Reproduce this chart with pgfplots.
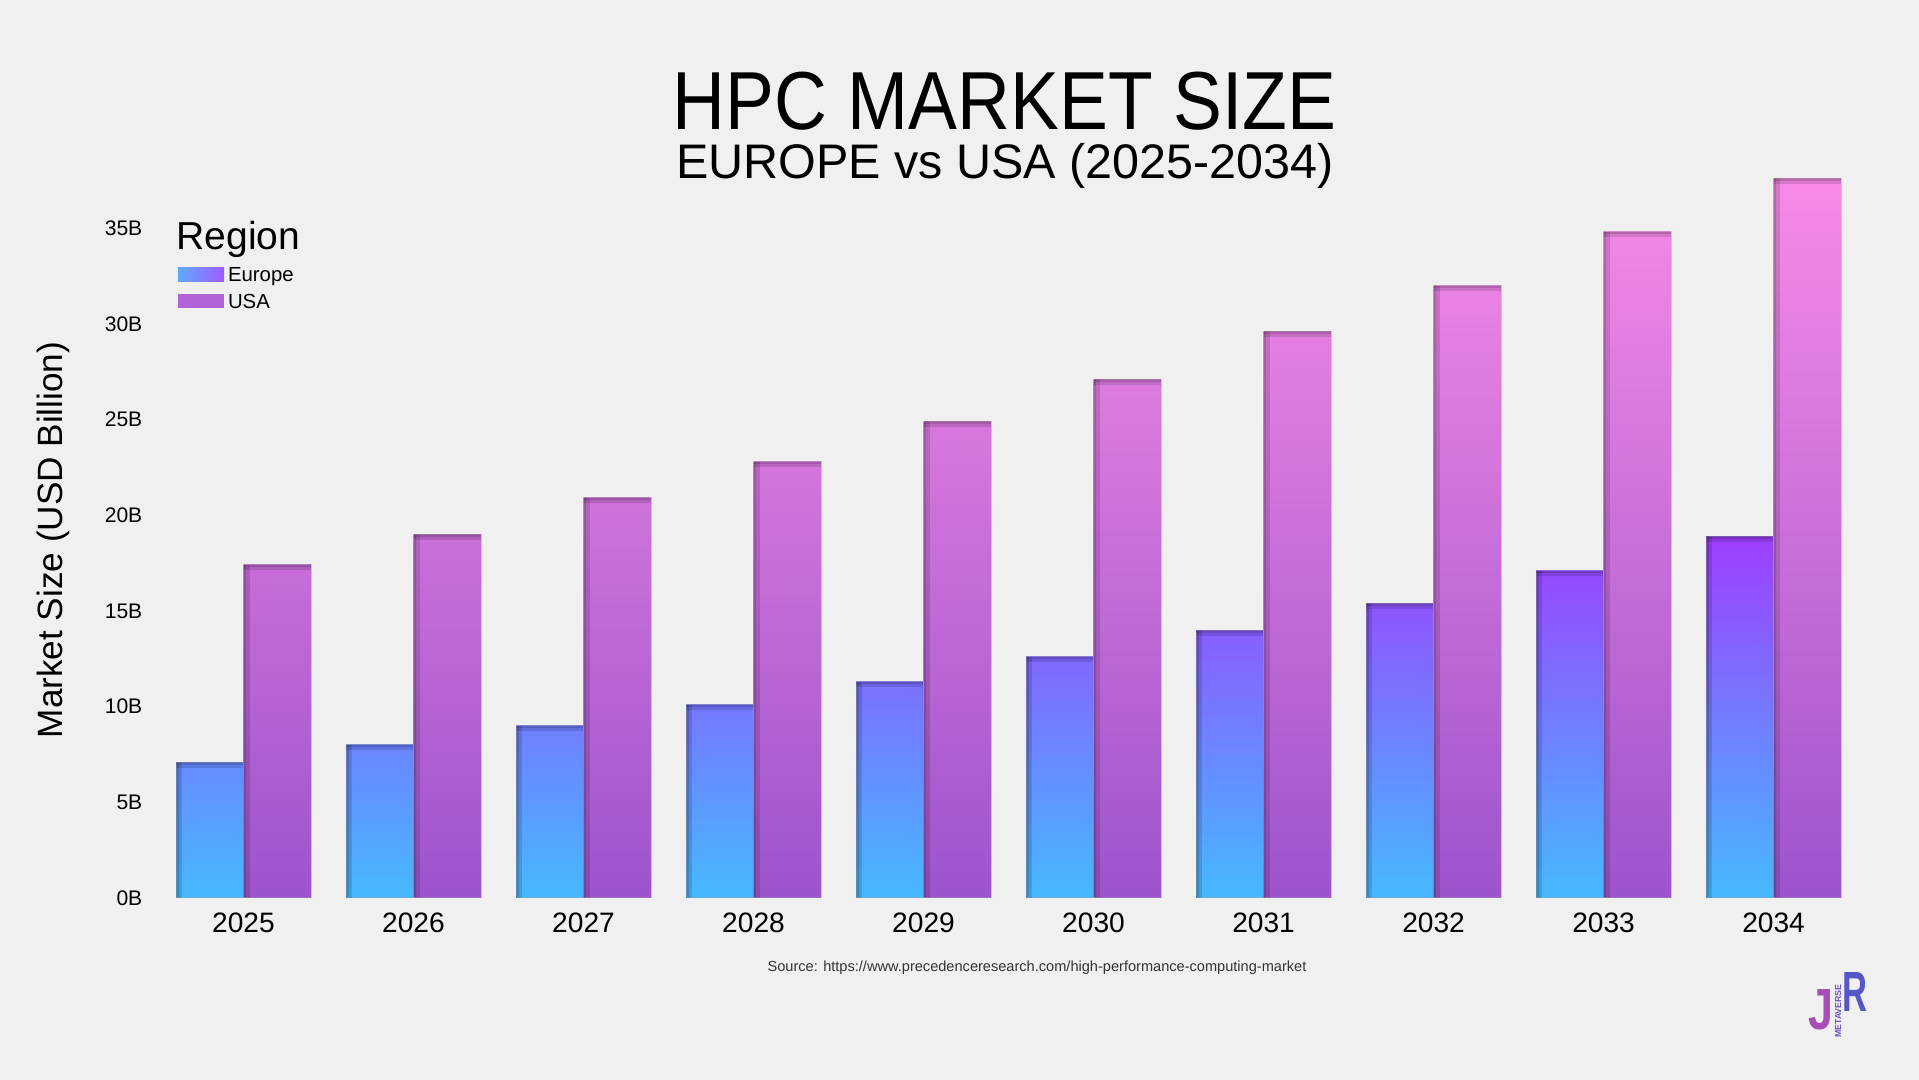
\documentclass[border=0pt]{standalone}
\usepackage{fontspec}
\setmainfont{Liberation Sans}
\usepackage{pgfplots}
\pgfplotsset{compat=1.18}
\definecolor{bg}{HTML}{F0F0F0}
\definecolor{eub}{HTML}{46B9FF}
\definecolor{eut}{HTML}{A03DFF}
\definecolor{usb}{HTML}{9C54CC}
\definecolor{ust}{HTML}{F78AE6}
\definecolor{legEuA}{HTML}{5FAAFF}
\definecolor{legEuB}{HTML}{A05CFF}
\definecolor{legUs}{HTML}{B062D6}
\definecolor{logoJ}{HTML}{A84DB5}
\definecolor{logoR}{HTML}{5656C6}
\newcommand\insetband[2]{%
  \pgfpathrectanglecorners{\pgfpointanchor{path picture bounding box}{south west}}{\pgfpointadd{\pgfpointanchor{path picture bounding box}{north west}}{\pgfpoint{#1}{0pt}}}%
  \pgfusepath{fill}%
  \pgfpathrectanglecorners{\pgfpointadd{\pgfpointanchor{path picture bounding box}{north west}}{\pgfpoint{0pt}{-#2}}}{\pgfpointanchor{path picture bounding box}{north east}}%
  \pgfusepath{fill}%
}
\newcommand\insetcode{%
  \pgfsetfillcolor{black}\pgfsetfillopacity{0.13}%
  \insetband{0.6mm}{0.55mm}%
  \insetband{0.28mm}{0.25mm}%
}
\pgfplotsset{
  eustyle/.style={ybar, forget plot, bar width=6.75mm, bar shift=-3.375mm,
    draw=black!40, draw opacity=0.4, line width=0.1mm, bottom color=eub, path picture={\insetcode}},
  usstyle/.style={ybar, forget plot, bar width=6.75mm, bar shift=3.375mm,
    draw=black!40, draw opacity=0.4, line width=0.1mm, bottom color=usb, path picture={\insetcode}},
}
\newcommand\eu[3]{\addplot[eustyle, top color=eut!#3!eub] coordinates {(#1,#2)};}
\newcommand\us[3]{\addplot[usstyle, top color=ust!#3!usb] coordinates {(#1,#2)};}
\begin{document}
\begin{tikzpicture}
\fill[bg] (0mm,0mm) rectangle (191.9mm,108mm);
\useasboundingbox (0mm,0mm) rectangle (191.9mm,108mm);
\begin{axis}[
  at={(15.85mm,18.2mm)}, anchor=south west,
  x=17mm, y=1.914mm,
  xmin=-0.5, xmax=9.5, ymin=0, ymax=38,
  axis line style={draw=none},
  tick style={draw=none},
  major tick length=0pt,
  xtick={0,1,2,3,4,5,6,7,8,9},
  xticklabels={2025,2026,2027,2028,2029,2030,2031,2032,2033,2034},
  ytick={0,5,10,15,20,25,30,35},
  yticklabels={0B,5B,10B,15B,20B,25B,30B,35B},
  xticklabel style={font=\fontsize{8}{8}\selectfont, inner sep=0pt, anchor=north, yshift=-1.4mm},
  yticklabel style={font=\fontsize{6}{6}\selectfont, inner sep=0pt, anchor=east, xshift=-1.55mm},
  clip=false,
  legend cell align=left,
  legend style={at={(0.01147,0.8676)}, anchor=north west, draw=none, fill=none,
    inner sep=0pt, outer sep=0pt, row sep=1.3mm,
    nodes={inner sep=0pt, text height=1.43mm, text depth=0pt, font=\fontsize{5.8}{6}\selectfont},
    /tikz/every odd column/.append style={column sep=0.4mm}},
]
\addlegendimage{legend image code/.code={\shade[draw=none, left color=legEuA, right color=legEuB] (0mm,-0.7mm) rectangle (4.6mm,0.7mm);}}
\addlegendentry{Europe}
\addlegendimage{legend image code/.code={\fill[draw=none, legUs] (0mm,-0.7mm) rectangle (4.6mm,0.7mm);}}
\addlegendentry{USA}
\eu{0}{7.1}{37}
\eu{1}{8.0}{42}
\eu{2}{9.0}{47}
\eu{3}{10.1}{53}
\eu{4}{11.3}{59}
\eu{5}{12.6}{66}
\eu{6}{14.0}{74}
\eu{7}{15.4}{81}
\eu{8}{17.1}{90}
\eu{9}{18.9}{99}
\us{0}{17.4}{46}
\us{1}{19.0}{51}
\us{2}{20.9}{56}
\us{3}{22.8}{61}
\us{4}{24.9}{66}
\us{5}{27.1}{72}
\us{6}{29.6}{79}
\us{7}{32.0}{85}
\us{8}{34.8}{93}
\us{9}{37.6}{100}
\end{axis}
\node[anchor=base, inner sep=0pt] at (100.45mm,95.0mm) {\resizebox{66.3mm}{5.75mm}{\fontsize{22}{22}\selectfont HPC MARKET SIZE}};
\node[anchor=base, inner sep=0pt] at (100.5mm,90.1mm) {\fontsize{13.8}{14}\selectfont EUROPE vs USA (2025-2034)};
\node[rotate=90, anchor=center, inner sep=0pt] at (5.3mm,54mm) {\fontsize{10}{10}\selectfont Market Size (USD Billion)};
\node[anchor=base west, inner sep=0pt] at (17.6mm,83mm) {\fontsize{11.1}{11}\selectfont Region};
\node[anchor=base, inner sep=0pt, text=black!80] at (103.7mm,10.83mm) {\fontsize{4.15}{4}\selectfont Source: https://www.precedenceresearch.com/high-performance-computing-market};
\node[anchor=base west, inner sep=0pt, text=logoJ] at (180.8mm,5.0mm) {\resizebox{2.5mm}{4.0mm}{\bfseries J}};
\node[anchor=base west, inner sep=0pt, text=logoR] at (184.2mm,6.8mm) {\resizebox{2.5mm}{3.9mm}{\bfseries R}};
\node[rotate=90, anchor=center, inner sep=0pt, text=logoR!70!logoJ] at (183.8mm,6.9mm) {\fontsize{2.5}{3}\selectfont\bfseries METAVERSE};
\end{tikzpicture}
\end{document}
